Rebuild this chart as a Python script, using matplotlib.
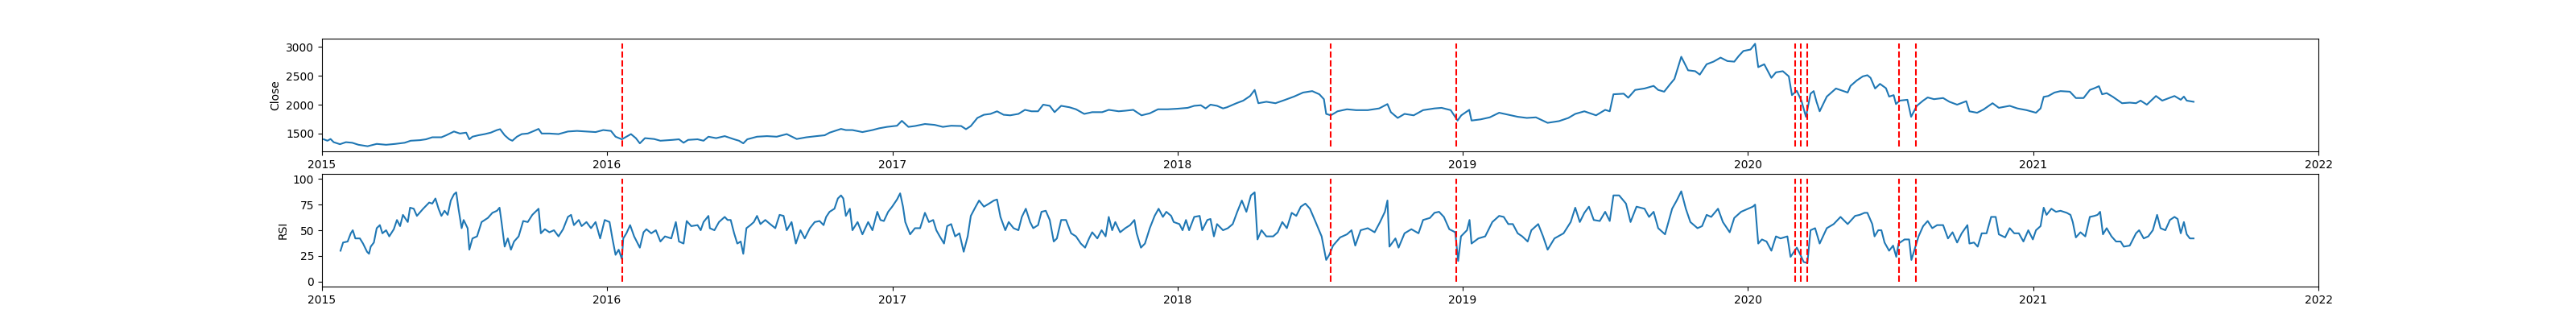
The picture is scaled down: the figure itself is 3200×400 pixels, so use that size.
import pandas as pd
import matplotlib
matplotlib.use('Agg')
import matplotlib.pyplot as plt

# close price (decimal year, value)
close_t = [2015.006, 2015.019, 2015.030, 2015.041, 2015.063, 2015.084, 2015.106, 2015.128, 2015.160, 2015.192,
           2015.225, 2015.257, 2015.290, 2015.311, 2015.344, 2015.365, 2015.387, 2015.419, 2015.436, 2015.463,
           2015.484, 2015.506, 2015.517, 2015.528, 2015.549, 2015.571, 2015.592, 2015.614, 2015.625, 2015.641,
           2015.657, 2015.668, 2015.684, 2015.701, 2015.722, 2015.744, 2015.760, 2015.771, 2015.798, 2015.830,
           2015.863, 2015.895, 2015.928, 2015.960, 2015.987, 2016.014, 2016.030, 2016.052, 2016.068, 2016.084,
           2016.101, 2016.115, 2016.133, 2016.165, 2016.187, 2016.230, 2016.252, 2016.268, 2016.284, 2016.317,
           2016.338, 2016.355, 2016.382, 2016.412, 2016.445, 2016.462, 2016.477, 2016.491, 2016.525, 2016.560,
           2016.594, 2016.629, 2016.664, 2016.698, 2016.733, 2016.762, 2016.779, 2016.819, 2016.836, 2016.859,
           2016.894, 2016.929, 2016.952, 2016.980, 2017.015, 2017.032, 2017.055, 2017.078, 2017.113, 2017.147,
           2017.176, 2017.205, 2017.240, 2017.257, 2017.274, 2017.297, 2017.320, 2017.343, 2017.366, 2017.389,
           2017.412, 2017.441, 2017.464, 2017.487, 2017.510, 2017.528, 2017.551, 2017.568, 2017.591, 2017.620,
           2017.643, 2017.672, 2017.700, 2017.735, 2017.758, 2017.793, 2017.816, 2017.844, 2017.873, 2017.902,
           2017.931, 2017.965, 2018.000, 2018.035, 2018.058, 2018.081, 2018.098, 2018.115, 2018.138, 2018.159,
           2018.173, 2018.206, 2018.230, 2018.254, 2018.270, 2018.283, 2018.311, 2018.343, 2018.375, 2018.408,
           2018.440, 2018.472, 2018.497, 2018.513, 2018.521, 2018.537, 2018.561, 2018.594, 2018.626, 2018.667,
           2018.707, 2018.736, 2018.748, 2018.772, 2018.796, 2018.828, 2018.861, 2018.901, 2018.926, 2018.958,
           2018.982, 2018.995, 2019.023, 2019.031, 2019.063, 2019.095, 2019.128, 2019.160, 2019.193, 2019.225,
           2019.257, 2019.298, 2019.338, 2019.371, 2019.395, 2019.427, 2019.468, 2019.500, 2019.516, 2019.529,
           2019.565, 2019.581, 2019.605, 2019.638, 2019.670, 2019.686, 2019.707, 2019.727, 2019.743, 2019.767,
           2019.791, 2019.816, 2019.832, 2019.856, 2019.880, 2019.905, 2019.929, 2019.953, 2019.969, 2019.985,
           2020.010, 2020.026, 2020.037, 2020.058, 2020.083, 2020.099, 2020.123, 2020.144, 2020.155, 2020.172,
           2020.188, 2020.204, 2020.220, 2020.231, 2020.241, 2020.252, 2020.277, 2020.309, 2020.350, 2020.360,
           2020.382, 2020.403, 2020.419, 2020.430, 2020.446, 2020.463, 2020.484, 2020.495, 2020.511, 2020.519,
           2020.532, 2020.559, 2020.572, 2020.592, 2020.614, 2020.630, 2020.652, 2020.684, 2020.706, 2020.733,
           2020.765, 2020.776, 2020.803, 2020.825, 2020.857, 2020.879, 2020.917, 2020.944, 2020.976, 2021.009,
           2021.025, 2021.036, 2021.052, 2021.074, 2021.095, 2021.128, 2021.149, 2021.176, 2021.198, 2021.214,
           2021.230, 2021.241, 2021.257, 2021.279, 2021.311, 2021.338, 2021.360, 2021.376, 2021.398, 2021.430,
           2021.452, 2021.495, 2021.517, 2021.528, 2021.538, 2021.562]
close_v = [1400, 1375, 1405, 1350, 1315, 1350, 1340, 1305, 1280, 1320,
           1305, 1320, 1340, 1375, 1385, 1400, 1435, 1435, 1470, 1535,
           1500, 1515, 1400, 1445, 1470, 1490, 1515, 1560, 1575, 1470,
           1400, 1375, 1445, 1490, 1500, 1545, 1580, 1500, 1500, 1490,
           1535, 1545, 1535, 1525, 1560, 1545, 1445, 1400, 1445, 1490,
           1420, 1330, 1420, 1405, 1375, 1390, 1400, 1340, 1390, 1400,
           1375, 1445, 1420, 1455, 1400, 1375, 1330, 1400, 1445, 1455,
           1445, 1490, 1405, 1435, 1455, 1470, 1515, 1580, 1560, 1560,
           1525, 1560, 1590, 1615, 1635, 1720, 1615, 1630, 1665, 1650,
           1615, 1635, 1630, 1575, 1630, 1770, 1825, 1840, 1885, 1825,
           1815, 1840, 1910, 1885, 1885, 2000, 1980, 1870, 1980, 1955,
           1920, 1840, 1870, 1870, 1910, 1885, 1895, 1910, 1815, 1850,
           1920, 1920, 1930, 1945, 1980, 1990, 1935, 2000, 1980, 1935,
           1955, 2025, 2070, 2150, 2255, 2025, 2050, 2025, 2080, 2140,
           2210, 2235, 2180, 2095, 1840, 1815, 1885, 1920, 1905, 1905,
           1935, 2010, 1870, 1770, 1840, 1815, 1905, 1935, 1945, 1905,
           1725, 1815, 1910, 1725, 1745, 1780, 1860, 1825, 1790, 1770,
           1780, 1685, 1715, 1770, 1840, 1885, 1815, 1910, 1885, 2180,
           2190, 2120, 2255, 2280, 2325, 2255, 2225, 2350, 2445, 2830,
           2595, 2580, 2520, 2700, 2745, 2815, 2755, 2745, 2845, 2930,
           2955, 3055, 2650, 2700, 2465, 2560, 2580, 2490, 2165, 2240,
           2070, 1790, 2190, 2235, 2050, 1885, 2140, 2280, 2210, 2325,
           2420, 2490, 2510, 2465, 2280, 2360, 2285, 2140, 2165, 2010,
           2070, 2085, 1790, 1980, 2070, 2125, 2095, 2115, 2050, 2000,
           2060, 1885, 1860, 1915, 2025, 1945, 1980, 1935, 1905, 1860,
           1935, 2135, 2150, 2210, 2235, 2225, 2115, 2115, 2255, 2285,
           2320, 2180, 2200, 2135, 2025, 2035, 2025, 2070, 2000, 2150,
           2070, 2150, 2085, 2140, 2070, 2050]

# RSI
rsi_t = [2015.065, 2015.074, 2015.090, 2015.101, 2015.108, 2015.117, 2015.133, 2015.144, 2015.158, 2015.165,
         2015.171, 2015.182, 2015.192, 2015.203, 2015.212, 2015.225, 2015.236, 2015.252, 2015.263, 2015.274,
         2015.284, 2015.301, 2015.309, 2015.322, 2015.333, 2015.355, 2015.376, 2015.387, 2015.398, 2015.409,
         2015.419, 2015.430, 2015.441, 2015.452, 2015.463, 2015.471, 2015.479, 2015.490, 2015.497, 2015.511,
         2015.517, 2015.528, 2015.544, 2015.560, 2015.582, 2015.598, 2015.614, 2015.623, 2015.630, 2015.641,
         2015.652, 2015.663, 2015.674, 2015.690, 2015.706, 2015.722, 2015.738, 2015.760, 2015.768, 2015.782,
         2015.798, 2015.814, 2015.830, 2015.846, 2015.863, 2015.874, 2015.884, 2015.901, 2015.911, 2015.928,
         2015.944, 2015.960, 2015.976, 2015.992, 2016.009, 2016.019, 2016.030, 2016.041, 2016.052, 2016.057,
         2016.068, 2016.081, 2016.095, 2016.115, 2016.128, 2016.138, 2016.155, 2016.171, 2016.187, 2016.203,
         2016.225, 2016.241, 2016.252, 2016.268, 2016.279, 2016.295, 2016.317, 2016.328, 2016.338, 2016.355,
         2016.360, 2016.376, 2016.392, 2016.412, 2016.422, 2016.433, 2016.445, 2016.456, 2016.468, 2016.477,
         2016.488, 2016.502, 2016.514, 2016.525, 2016.537, 2016.554, 2016.571, 2016.589, 2016.604, 2016.618,
         2016.629, 2016.646, 2016.661, 2016.677, 2016.692, 2016.710, 2016.727, 2016.744, 2016.758, 2016.767,
         2016.779, 2016.796, 2016.808, 2016.819, 2016.827, 2016.836, 2016.850, 2016.859, 2016.877, 2016.894,
         2016.914, 2016.929, 2016.946, 2016.957, 2016.969, 2016.984, 2016.998, 2017.015, 2017.026, 2017.036,
         2017.044, 2017.061, 2017.078, 2017.096, 2017.113, 2017.127, 2017.142, 2017.153, 2017.165, 2017.180,
         2017.191, 2017.205, 2017.219, 2017.234, 2017.249, 2017.263, 2017.274, 2017.291, 2017.303, 2017.320,
         2017.338, 2017.355, 2017.366, 2017.378, 2017.395, 2017.407, 2017.424, 2017.441, 2017.453, 2017.467,
         2017.482, 2017.493, 2017.510, 2017.522, 2017.537, 2017.551, 2017.565, 2017.576, 2017.591, 2017.608,
         2017.626, 2017.643, 2017.660, 2017.675, 2017.689, 2017.700, 2017.718, 2017.733, 2017.747, 2017.758,
         2017.770, 2017.781, 2017.798, 2017.816, 2017.833, 2017.848, 2017.856, 2017.871, 2017.885, 2017.902,
         2017.919, 2017.933, 2017.948, 2017.960, 2017.977, 2017.986, 2018.006, 2018.017, 2018.029, 2018.040,
         2018.058, 2018.077, 2018.086, 2018.104, 2018.115, 2018.127, 2018.138, 2018.159, 2018.176, 2018.193,
         2018.209, 2018.225, 2018.241, 2018.257, 2018.270, 2018.280, 2018.294, 2018.311, 2018.335, 2018.351,
         2018.367, 2018.383, 2018.400, 2018.416, 2018.432, 2018.448, 2018.464, 2018.484, 2018.505, 2018.521,
         2018.532, 2018.545, 2018.570, 2018.594, 2018.610, 2018.623, 2018.642, 2018.667, 2018.691, 2018.710,
         2018.727, 2018.736, 2018.743, 2018.764, 2018.775, 2018.796, 2018.820, 2018.845, 2018.861, 2018.885,
         2018.901, 2018.917, 2018.934, 2018.953, 2018.974, 2018.984, 2018.994, 2019.015, 2019.024, 2019.031,
         2019.055, 2019.079, 2019.104, 2019.128, 2019.144, 2019.160, 2019.176, 2019.193, 2019.209, 2019.228,
         2019.241, 2019.265, 2019.282, 2019.298, 2019.322, 2019.354, 2019.379, 2019.395, 2019.411, 2019.427,
         2019.443, 2019.460, 2019.481, 2019.500, 2019.516, 2019.529, 2019.549, 2019.573, 2019.589, 2019.610,
         2019.638, 2019.654, 2019.670, 2019.686, 2019.710, 2019.735, 2019.751, 2019.767, 2019.783, 2019.799,
         2019.824, 2019.840, 2019.856, 2019.872, 2019.896, 2019.913, 2019.937, 2019.953, 2019.977, 2020.002,
         2020.018, 2020.026, 2020.037, 2020.050, 2020.066, 2020.083, 2020.099, 2020.115, 2020.139, 2020.150,
         2020.172, 2020.183, 2020.196, 2020.209, 2020.220, 2020.236, 2020.252, 2020.277, 2020.301, 2020.325,
         2020.350, 2020.376, 2020.392, 2020.409, 2020.419, 2020.436, 2020.444, 2020.457, 2020.468, 2020.479,
         2020.495, 2020.509, 2020.520, 2020.528, 2020.549, 2020.565, 2020.573, 2020.587, 2020.598, 2020.614,
         2020.630, 2020.646, 2020.663, 2020.684, 2020.701, 2020.717, 2020.733, 2020.749, 2020.769, 2020.776,
         2020.792, 2020.805, 2020.819, 2020.836, 2020.852, 2020.868, 2020.879, 2020.901, 2020.917, 2020.933,
         2020.949, 2020.965, 2020.982, 2020.998, 2021.009, 2021.025, 2021.036, 2021.046, 2021.063, 2021.079,
         2021.095, 2021.117, 2021.130, 2021.138, 2021.149, 2021.165, 2021.182, 2021.198, 2021.214, 2021.225,
         2021.234, 2021.244, 2021.257, 2021.274, 2021.290, 2021.306, 2021.317, 2021.338, 2021.360, 2021.371,
         2021.387, 2021.403, 2021.419, 2021.434, 2021.446, 2021.463, 2021.479, 2021.495, 2021.506, 2021.517,
         2021.528, 2021.538, 2021.549, 2021.562]
rsi_v = [30, 38, 39, 47, 50, 42, 42, 37, 29, 27,
         34, 38, 52, 55, 47, 50, 44, 51, 60, 54,
         65, 58, 72, 71, 64, 71, 77, 76, 81, 71,
         64, 69, 65, 79, 85, 87, 71, 52, 60, 52,
         31, 42, 44, 58, 62, 67, 69, 72, 58, 34,
         42, 31, 39, 44, 59, 58, 65, 71, 47, 51,
         48, 50, 44, 51, 63, 65, 55, 60, 54, 58,
         52, 58, 42, 60, 58, 42, 26, 31, 22, 42,
         47, 55, 44, 33, 48, 51, 47, 50, 39, 44,
         42, 58, 39, 37, 59, 54, 55, 50, 58, 64,
         52, 50, 58, 63, 60, 60, 47, 37, 39, 27,
         52, 55, 58, 64, 56, 60, 56, 52, 65, 64,
         50, 58, 37, 50, 42, 52, 58, 59, 55, 63,
         68, 71, 81, 84, 81, 64, 71, 50, 58, 46,
         58, 50, 68, 60, 59, 68, 73, 80, 86, 73,
         58, 46, 52, 52, 67, 58, 60, 50, 44, 37,
         54, 56, 44, 47, 29, 44, 64, 73, 79, 73,
         76, 79, 80, 63, 50, 58, 52, 50, 63, 71,
         58, 52, 55, 68, 69, 60, 39, 42, 60, 60,
         47, 44, 37, 33, 42, 48, 42, 50, 44, 63,
         50, 58, 48, 52, 55, 60, 47, 33, 37, 52,
         64, 71, 63, 68, 64, 58, 56, 50, 60, 50,
         63, 64, 50, 60, 61, 44, 56, 50, 52, 56,
         68, 79, 68, 84, 87, 41, 50, 44, 44, 48,
         58, 52, 67, 64, 73, 76, 71, 58, 44, 21,
         26, 35, 43, 46, 50, 35, 50, 52, 48, 58,
         68, 79, 34, 42, 33, 47, 51, 47, 60, 62,
         67, 68, 63, 51, 48, 20, 44, 50, 60, 37,
         42, 44, 58, 64, 63, 56, 56, 47, 44, 39,
         50, 56, 44, 31, 42, 47, 58, 72, 58, 67,
         73, 60, 59, 68, 59, 84, 84, 76, 58, 73,
         71, 63, 68, 52, 46, 71, 79, 88, 71, 58,
         52, 54, 65, 63, 71, 58, 48, 62, 68, 71,
         73, 75, 37, 41, 39, 30, 44, 42, 44, 24,
         33, 27, 19, 18, 50, 52, 37, 52, 56, 63,
         56, 64, 65, 67, 67, 56, 44, 50, 50, 38,
         30, 35, 24, 37, 41, 41, 21, 34, 44, 54,
         59, 52, 55, 55, 42, 48, 38, 47, 55, 37,
         38, 34, 47, 47, 63, 63, 46, 43, 52, 47,
         47, 39, 50, 41, 50, 54, 72, 65, 71, 68,
         69, 67, 65, 58, 43, 48, 44, 63, 64, 65,
         68, 46, 52, 44, 39, 39, 34, 35, 47, 50,
         42, 44, 50, 65, 52, 50, 60, 63, 61, 47,
         58, 46, 42, 42]

# dates marked with red dashed lines
events = ['2016-01-21', '2018-07-16', '2018-12-24', '2020-03-02', '2020-03-09',
          '2020-03-17', '2020-07-13', '2020-08-03']


def to_date(years):
    # decimal year -> timestamp
    out = []
    for y in years:
        yr = int(y)
        start = pd.Timestamp(yr, 1, 1)
        end = pd.Timestamp(yr + 1, 1, 1)
        out.append(start + (end - start) * (y - yr))
    return out


close_dates = to_date(close_t)
rsi_dates = to_date(rsi_t)
event_dates = pd.to_datetime(events)

fig, (ax1, ax2) = plt.subplots(2, 1, figsize=(32, 4))

ax1.plot(close_dates, close_v)
ax1.vlines(event_dates, min(close_v), max(close_v), colors='r', linestyles='dashed')
ax1.set_ylabel('Close')
ax1.set_xlim(pd.Timestamp('2015-01-01'), pd.Timestamp('2022-01-01'))

ax2.plot(rsi_dates, rsi_v)
ax2.vlines(event_dates, 0, 100, colors='r', linestyles='dashed')
ax2.set_ylabel('RSI')
ax2.set_xlim(pd.Timestamp('2015-01-01'), pd.Timestamp('2022-01-01'))

plt.savefig('out.png')
